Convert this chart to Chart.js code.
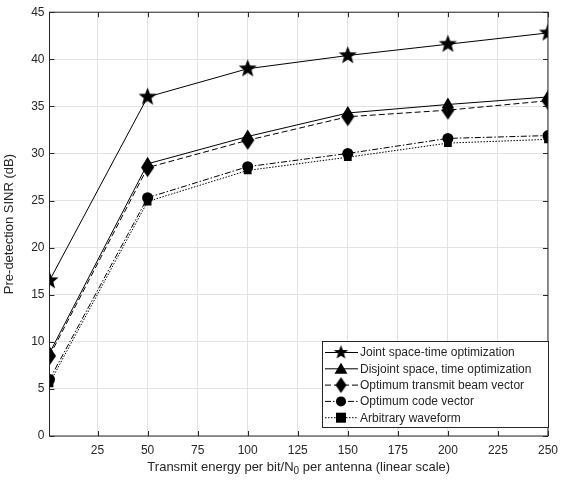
<!DOCTYPE html>
<html>
<head>
<meta charset="utf-8">
<script src="https://cdn.jsdelivr.net/npm/chart.js@4.4.0/dist/chart.umd.min.js"></script>
<style>
  html, body { margin: 0; padding: 0; background: #fff; }
  #wrap { width: 565px; height: 481px; }
</style>
</head>
<body>
<div id="wrap"><canvas id="chart" width="565" height="481"></canvas></div>
<script>
// Data
const energy = [1, 50, 100, 150, 200, 250];
const jointSpaceTime = [16.5, 36.0, 39.0, 40.4, 41.6, 42.8];
const disjointSpaceTime = [8.8, 28.9, 31.8, 34.3, 35.2, 36.0];
const optimumBeam = [8.5, 28.5, 31.4, 33.9, 34.6, 35.6];
const optimumCode = [6.0, 25.3, 28.6, 30.0, 31.6, 31.9];
const arbitraryWave = [5.6, 24.9, 28.2, 29.6, 31.1, 31.5];
const xTicks = [25, 50, 75, 100, 125, 150, 175, 200, 225, 250];
const yTicks = [0, 5, 10, 15, 20, 25, 30, 35, 40, 45];

const INK = '#262626';
const FONT = '"Liberation Sans", Arial, sans-serif';

// Marker images (filled star, diamond)
function makeStar(r) {
    const c = document.createElement('canvas');
    const s = Math.ceil(r * 2 + 2);
    c.width = s; c.height = s;
    const g = c.getContext('2d');
    g.translate(s / 2, s / 2);
    g.beginPath();
    for (let i = 0; i < 10; i++) {
        const rr = i % 2 === 0 ? r : r * 0.42;
        const a = -Math.PI / 2 + i * Math.PI / 5;
        g.lineTo(rr * Math.cos(a), rr * Math.sin(a));
    }
    g.closePath();
    g.fillStyle = '#000';
    g.fill();
    return c;
}
function makeDiamond(w, h) {
    const c = document.createElement('canvas');
    c.width = w * 2 + 2; c.height = h * 2 + 2;
    const g = c.getContext('2d');
    g.translate(c.width / 2, c.height / 2);
    g.beginPath();
    g.moveTo(0, -h); g.lineTo(w, 0); g.lineTo(0, h); g.lineTo(-w, 0);
    g.closePath();
    g.fillStyle = '#000';
    g.fill();
    return c;
}
const starImg = makeStar(9.5);
const diamondImg = makeDiamond(6.5, 9.5);

const series = [
    { label: 'Joint space-time optimization', data: jointSpaceTime, dash: [], style: starImg, r: 8 },
    { label: 'Disjoint space, time optimization', data: disjointSpaceTime, dash: [], style: 'triangle', r: 7 },
    { label: 'Optimum transmit beam vector', data: optimumBeam, dash: [6, 3], style: diamondImg, r: 7 },
    { label: 'Optimum code vector', data: optimumCode, dash: [6, 2, 1.5, 2], style: 'circle', r: 5.5 },
    { label: 'Arbitrary waveform', data: arbitraryWave, dash: [1.5, 1.5], style: 'rect', r: 5.5 }
];

const PLOT = { left: 49.5, right: 548, top: 10, bottom: 436 };

// Box, inward ticks, x title and legend
const decor = {
    id: 'decor',
    afterDraw(chart) {
        const ctx = chart.ctx;
        const a = chart.chartArea;
        const xs = chart.scales.x, ys = chart.scales.y;
        ctx.save();
        ctx.strokeStyle = INK;
        ctx.lineWidth = 1;
        ctx.setLineDash([]);
        ctx.strokeRect(a.left, a.top, a.right - a.left, a.bottom - a.top);
        ctx.beginPath();
        xTicks.forEach(v => {
            const px = Math.round(xs.getPixelForValue(v)) + 0.5;
            ctx.moveTo(px, a.bottom); ctx.lineTo(px, a.bottom - 5);
            ctx.moveTo(px, a.top); ctx.lineTo(px, a.top + 5);
        });
        yTicks.forEach(v => {
            const py = Math.round(ys.getPixelForValue(v)) + 0.5;
            ctx.moveTo(a.left, py); ctx.lineTo(a.left + 5, py);
            ctx.moveTo(a.right, py); ctx.lineTo(a.right - 5, py);
        });
        ctx.stroke();

        // x axis title with subscript
        ctx.fillStyle = INK;
        ctx.textBaseline = 'alphabetic';
        const f1 = '13px ' + FONT, f2 = '10px ' + FONT;
        const p1 = 'Transmit energy per bit/N', p2 = '0', p3 = ' per antenna (linear scale)';
        ctx.font = f1;
        const w1 = ctx.measureText(p1).width, w3 = ctx.measureText(p3).width;
        ctx.font = f2;
        const w2 = ctx.measureText(p2).width;
        let x0 = (a.left + a.right) / 2 - (w1 + w2 + w3) / 2;
        const yb = 471;
        ctx.font = f1; ctx.textAlign = 'left';
        ctx.fillText(p1, x0, yb);
        ctx.font = f2;
        ctx.fillText(p2, x0 + w1, yb + 3);
        ctx.font = f1;
        ctx.fillText(p3, x0 + w1 + w2, yb);

        // legend
        const lx = 322, ly = 341, lw = 227, lh = 87;
        ctx.fillStyle = '#fff';
        ctx.fillRect(lx, ly, lw, lh);
        ctx.strokeStyle = INK;
        ctx.strokeRect(lx + 0.5, ly + 0.5, lw - 1, lh - 1);
        ctx.font = '12px ' + FONT;
        ctx.textBaseline = 'middle';
        series.forEach((s, i) => {
            const cy = ly + 11.5 + i * 16.3;
            ctx.strokeStyle = '#000';
            ctx.setLineDash(s.dash);
            ctx.beginPath();
            ctx.moveTo(lx + 3, cy); ctx.lineTo(lx + 36, cy);
            ctx.stroke();
            ctx.setLineDash([]);
            const cx = lx + 19;
            ctx.fillStyle = '#000';
            if (s.style === 'triangle') {
                ctx.beginPath();
                ctx.moveTo(cx, cy - 6); ctx.lineTo(cx + 6.5, cy + 5); ctx.lineTo(cx - 6.5, cy + 5);
                ctx.closePath(); ctx.fill();
            } else if (s.style === 'circle') {
                ctx.beginPath(); ctx.arc(cx, cy, 5, 0, Math.PI * 2); ctx.fill();
            } else if (s.style === 'rect') {
                ctx.fillRect(cx - 5, cy - 5, 10, 10);
            } else {
                const img = s.style === starImg ? makeStar(7.5) : makeDiamond(5.5, 8);
                ctx.drawImage(img, cx - img.width / 2, cy - img.height / 2);
            }
            ctx.fillStyle = INK;
            ctx.fillText(s.label, lx + 38, cy + 0.5);
        });
        ctx.restore();
    }
};

new Chart(document.getElementById('chart'), {
    type: 'line',
    data: {
        datasets: series.map(s => ({
            label: s.label,
            data: energy.map((x, i) => ({ x: x, y: s.data[i] })),
            borderColor: '#000',
            backgroundColor: '#000',
            borderWidth: 1,
            borderDash: s.dash,
            pointStyle: s.style,
            pointRadius: s.r,
            pointBorderWidth: 0,
            tension: 0
        }))
    },
    options: {
        responsive: false,
        animation: false,
        layout: { padding: { top: PLOT.top, right: 565 - PLOT.right, left: 2, bottom: 0 } },
        plugins: {
            legend: { display: false },
            tooltip: { enabled: false }
        },
        scales: {
            x: {
                type: 'linear',
                min: 1,
                max: 250,
                afterBuildTicks: axis => { axis.ticks = xTicks.map(v => ({ value: v })); },
                afterFit: axis => { axis.height = 481 - PLOT.bottom; },
                grid: { color: '#e3e3e3', drawTicks: false },
                border: { display: false },
                ticks: { color: INK, font: { family: FONT, size: 12 }, padding: 7, maxRotation: 0 }
            },
            y: {
                min: 0,
                max: 45,
                afterBuildTicks: axis => { axis.ticks = yTicks.map(v => ({ value: v })); },
                afterFit: axis => { axis.width = PLOT.left - 2; },
                grid: { color: '#e3e3e3', drawTicks: false },
                border: { display: false },
                ticks: { color: INK, font: { family: FONT, size: 12 }, padding: 5 },
                title: {
                    display: true,
                    text: 'Pre-detection SINR (dB)',
                    color: INK,
                    font: { family: FONT, size: 13 },
                    padding: { top: 0, bottom: 2 }
                }
            }
        }
    },
    plugins: [decor]
});
</script>
</body>
</html>
